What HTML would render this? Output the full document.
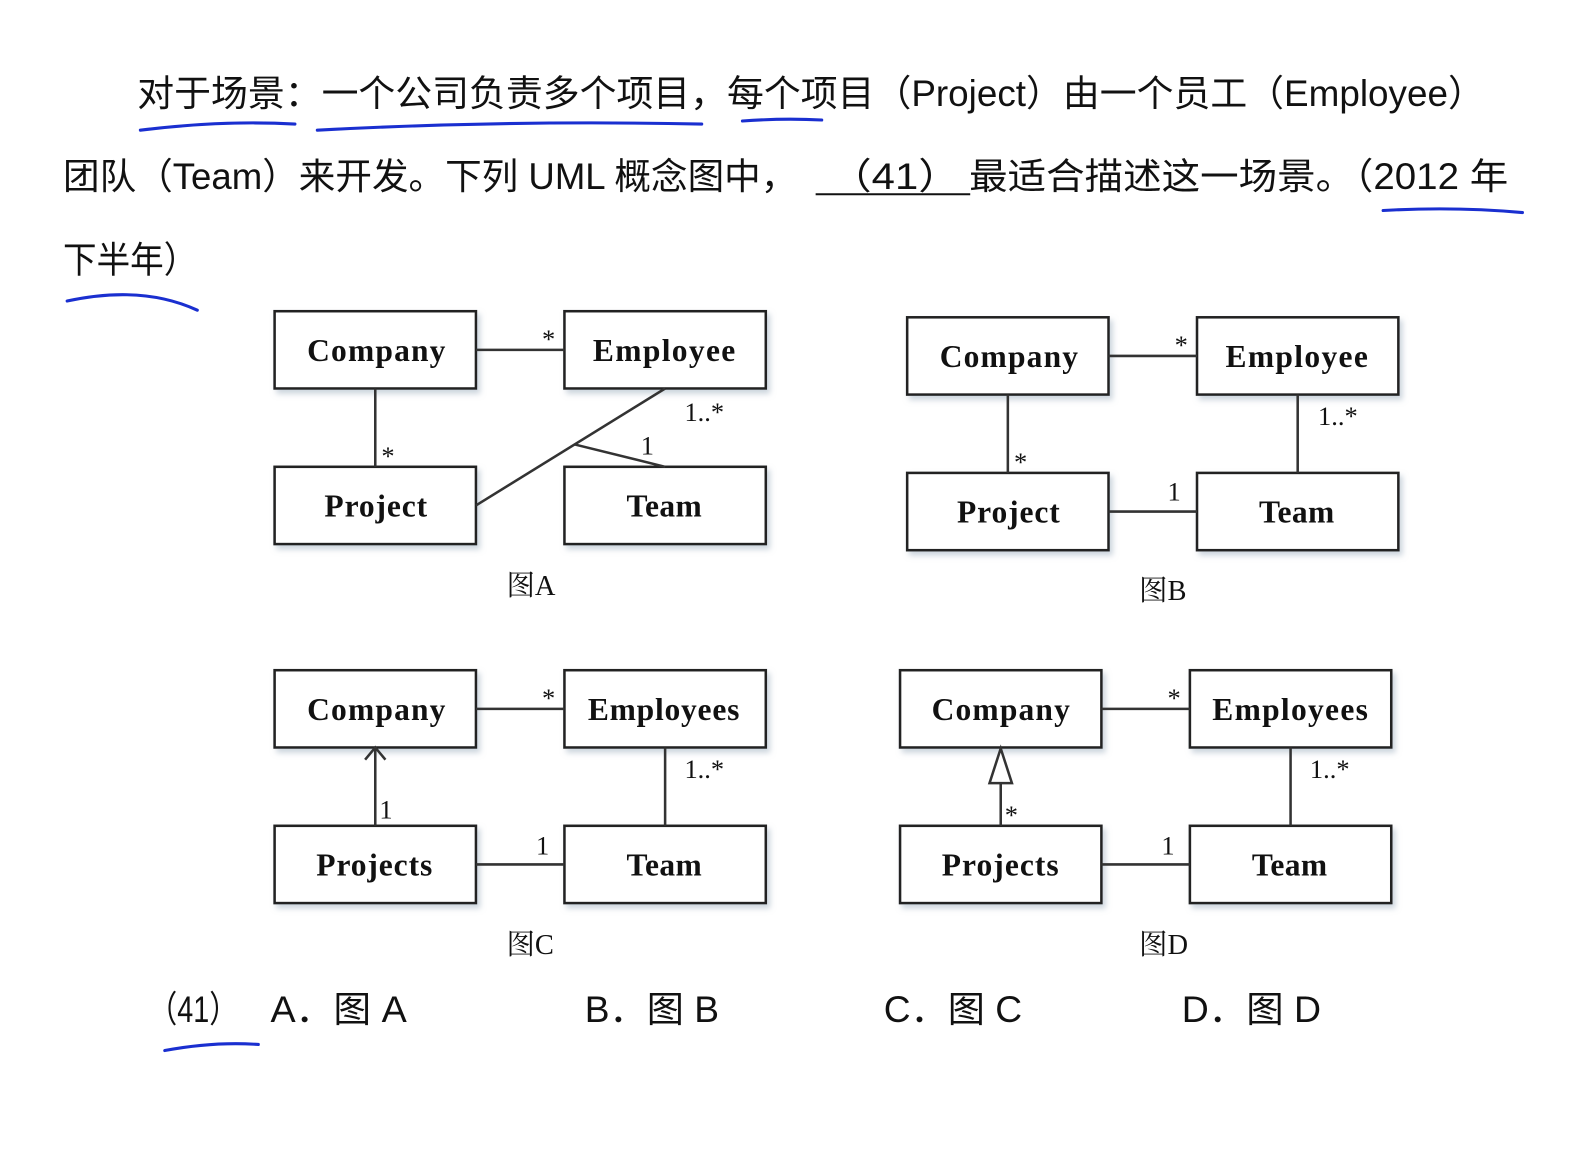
<!DOCTYPE html>
<html><head><meta charset="utf-8"><style>
html,body{margin:0;padding:0;background:#fff;width:1593px;height:1159px;overflow:hidden}
</style></head><body>
<svg width="1593" height="1159" xmlns="http://www.w3.org/2000/svg">
<defs><filter id="sh" x="-10%" y="-10%" width="130%" height="140%"><feDropShadow dx="3" dy="4" stdDeviation="3" flood-color="#9ab" flood-opacity="0.5"/></filter></defs>
<g transform="scale(1.017)">
<g font-family="'Liberation Sans','Noto Sans CJK SC',sans-serif" font-size="36" fill="#111" lengthAdjust="spacingAndGlyphs">
<text x="135" y="104" textLength="1325" lengthAdjust="spacingAndGlyphs">对于场景：一个公司负责多个项目，每个项目（Project）由一个员工（Employee）</text>
<text x="62" y="186" textLength="722" lengthAdjust="spacingAndGlyphs">团队（Team）来开发。下列 UML 概念图中，</text>
<text x="816" y="186" textLength="128" lengthAdjust="spacingAndGlyphs">（41）</text>
<text x="953" y="186" textLength="530" lengthAdjust="spacingAndGlyphs">最适合描述这一场景。（2012 年</text>
<text x="62" y="268" textLength="132" lengthAdjust="spacingAndGlyphs">下半年）</text>
<text x="146" y="1005" textLength="88" lengthAdjust="spacingAndGlyphs">（41）</text>
<text x="266" y="1005" textLength="134" lengthAdjust="spacingAndGlyphs">A．图 A</text>
<text x="575" y="1005" textLength="132" lengthAdjust="spacingAndGlyphs">B．图 B</text>
<text x="869" y="1005" textLength="136" lengthAdjust="spacingAndGlyphs">C．图 C</text>
<text x="1162" y="1005" textLength="137" lengthAdjust="spacingAndGlyphs">D．图 D</text>
</g>
<line x1="802" y1="191" x2="954" y2="191" stroke="#111" stroke-width="2"/>
<g stroke="#1a2fd0" stroke-width="3" fill="none" stroke-linecap="round">
<path d="M138 128 Q220 118 290 122"/>
<path d="M312 128 Q500 118 690 122"/>
<path d="M730 119 Q770 116 808 118"/>
<path d="M1360 207 Q1430 203 1497 209"/>
<path d="M66 296 Q140 280 194 305"/>
<path d="M162 1033 Q210 1024 254 1027"/>
</g>
<g stroke="#222" stroke-width="2.5" fill="#fff">
<rect x="270" y="306" width="198" height="76" filter="url(#sh)"/>
<rect x="555" y="306" width="198" height="76" filter="url(#sh)"/>
<rect x="270" y="459" width="198" height="76" filter="url(#sh)"/>
<rect x="555" y="459" width="198" height="76" filter="url(#sh)"/>
<rect x="892" y="312" width="198" height="76" filter="url(#sh)"/>
<rect x="1177" y="312" width="198" height="76" filter="url(#sh)"/>
<rect x="892" y="465" width="198" height="76" filter="url(#sh)"/>
<rect x="1177" y="465" width="198" height="76" filter="url(#sh)"/>
<rect x="270" y="659" width="198" height="76" filter="url(#sh)"/>
<rect x="555" y="659" width="198" height="76" filter="url(#sh)"/>
<rect x="270" y="812" width="198" height="76" filter="url(#sh)"/>
<rect x="555" y="812" width="198" height="76" filter="url(#sh)"/>
<rect x="885" y="659" width="198" height="76" filter="url(#sh)"/>
<rect x="1170" y="659" width="198" height="76" filter="url(#sh)"/>
<rect x="885" y="812" width="198" height="76" filter="url(#sh)"/>
<rect x="1170" y="812" width="198" height="76" filter="url(#sh)"/>
</g>
<g font-family="'Liberation Serif',serif" font-weight="bold" font-size="31" fill="#111">
<text x="302" y="355" textLength="136" lengthAdjust="spacing">Company</text><text x="583" y="355" textLength="140" lengthAdjust="spacing">Employee</text>
<text x="319" y="508" textLength="101" lengthAdjust="spacing">Project</text><text x="616" y="508" textLength="74" lengthAdjust="spacing">Team</text>
<text x="924" y="361" textLength="136" lengthAdjust="spacing">Company</text><text x="1205" y="361" textLength="140" lengthAdjust="spacing">Employee</text>
<text x="941" y="514" textLength="101" lengthAdjust="spacing">Project</text><text x="1238" y="514" textLength="74" lengthAdjust="spacing">Team</text>
<text x="302" y="708" textLength="136" lengthAdjust="spacing">Company</text><text x="578" y="708" textLength="149" lengthAdjust="spacing">Employees</text>
<text x="311" y="861" textLength="114" lengthAdjust="spacing">Projects</text><text x="616" y="861" textLength="74" lengthAdjust="spacing">Team</text>
<text x="916" y="708" textLength="136" lengthAdjust="spacing">Company</text><text x="1192" y="708" textLength="153" lengthAdjust="spacing">Employees</text>
<text x="926" y="861" textLength="115" lengthAdjust="spacing">Projects</text><text x="1231" y="861" textLength="74" lengthAdjust="spacing">Team</text>
</g>
<g stroke="#333" stroke-width="2.5" fill="none">
<line x1="468" y1="344" x2="555" y2="344"/>
<line x1="369" y1="382" x2="369" y2="459"/>
<line x1="468" y1="497" x2="654" y2="382"/>
<line x1="565" y1="437" x2="654" y2="459"/>
<line x1="1090" y1="350" x2="1177" y2="350"/>
<line x1="991" y1="388" x2="991" y2="465"/>
<line x1="1090" y1="503" x2="1177" y2="503"/>
<line x1="1276" y1="388" x2="1276" y2="465"/>
<line x1="468" y1="697" x2="555" y2="697"/>
<line x1="369" y1="735" x2="369" y2="812"/>
<path d="M359 747 L369 735 L379 747"/>
<line x1="468" y1="850" x2="555" y2="850"/>
<line x1="654" y1="735" x2="654" y2="812"/>
<line x1="1083" y1="697" x2="1170" y2="697"/>
<line x1="984" y1="770" x2="984" y2="812"/>
<path d="M984 736 L973 770 L995 770 Z" fill="#fff"/>
<line x1="1083" y1="850" x2="1170" y2="850"/>
<line x1="1269" y1="735" x2="1269" y2="812"/>
</g>
<g font-family="'Liberation Serif',serif" font-size="26" fill="#111">
<text x="533" y="342">*</text><text x="375" y="457">*</text><text x="673" y="414">1..*</text><text x="630" y="447">1</text>
<text x="1155" y="348">*</text><text x="997" y="463">*</text><text x="1296" y="418">1..*</text><text x="1148" y="492">1</text>
<text x="533" y="695">*</text><text x="373" y="805">1</text><text x="673" y="765">1..*</text><text x="527" y="840">1</text>
<text x="1148" y="695">*</text><text x="988" y="810">*</text><text x="1288" y="765">1..*</text><text x="1142" y="840">1</text>
</g>
<g font-family="'Liberation Serif','Noto Serif CJK SC',serif" font-size="28" fill="#111">
<text x="498" y="585">图A</text><text x="1120" y="590">图B</text>
<text x="498" y="938">图C</text><text x="1120" y="938">图D</text>
</g>
</g>
</svg>
</body></html>
